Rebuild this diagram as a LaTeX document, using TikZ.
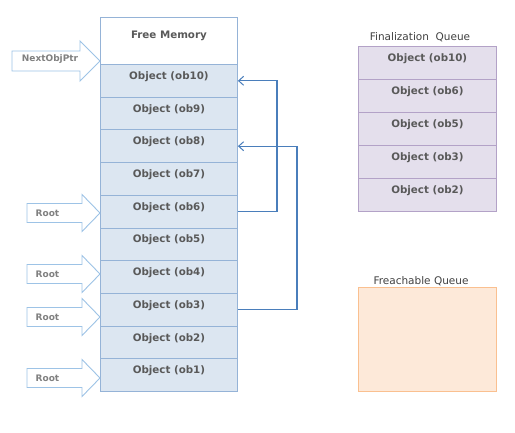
\documentclass[tikz,border=0pt]{standalone}
\usepackage{fontspec}
\setmainfont{DejaVu Sans}
\usetikzlibrary{arrows.meta}
\definecolor{memfill}{HTML}{DCE6F1}
\definecolor{memline}{HTML}{95B3D7}
\definecolor{objtext}{HTML}{595959}
\definecolor{labtext}{HTML}{404040}
\definecolor{finfill}{HTML}{E4DFEC}
\definecolor{finline}{HTML}{B3A2C7}
\definecolor{frfill}{HTML}{FDE9D9}
\definecolor{frline}{HTML}{FAC090}
\definecolor{arrline}{HTML}{9DC3E6}
\definecolor{connline}{HTML}{4A7EBB}
\definecolor{arrtext}{HTML}{808080}
\tikzset{
  memrow/.style={draw=memline, fill=memfill, line width=0.9pt, minimum width=137pt,
    minimum height=32.7pt, inner sep=0pt, text height=15pt, text depth=17.7pt,
    anchor=north west, font=\bfseries\fontsize{10.3}{12}\selectfont, text=objtext},
  freerow/.style={memrow, fill=white, minimum height=47pt, text height=21pt, text depth=26pt},
  finrow/.style={draw=finline, fill=finfill, line width=0.9pt, minimum width=138pt,
    minimum height=33pt, inner sep=0pt, text height=15pt, text depth=18pt,
    anchor=north west, font=\bfseries\fontsize{10.3}{12}\selectfont, text=objtext},
  frbox/.style={draw=frline, fill=frfill, line width=0.9pt, minimum width=138pt,
    minimum height=104pt, inner sep=0pt, anchor=north west},
  qlabel/.style={font=\fontsize{10.5}{12}\selectfont, text=labtext, inner sep=0pt},
  blockarrow/.style={draw=arrline, fill=white, line width=0.9pt, line join=miter},
  arrlabel/.style={font=\bfseries\fontsize{9}{11}\selectfont, text=arrtext, inner sep=0pt},
  conn/.style={draw=connline, line width=1.2pt, -{Straight Barb[length=5pt,width=9pt,line width=1pt]}},
  ptrarrow/.pic={\path[blockarrow] (-88,-10) -- (-20,-10) -- (-20,-20) -- (0,0) -- (-20,20) -- (-20,10) -- (-88,10) -- cycle;},
  rootarrow/.pic={\path[blockarrow] (-73,-9.5) -- (-18,-9.5) -- (-18,-18.5) -- (0,0) -- (-18,18.5) -- (-18,9.5) -- (-73,9.5) -- cycle;}
}
\begin{document}
\begin{tikzpicture}[x=1pt,y=-1pt]
\useasboundingbox (0,0) rectangle (515,432);
% managed heap
\node[freerow] (free) at (100,17) {Free Memory};
\node[memrow] (ob10) at (100,64) {Object (ob10)};
\node[memrow] (ob9) at (100,96.7) {Object (ob9)};
\node[memrow] (ob8) at (100,129.4) {Object (ob8)};
\node[memrow] (ob7) at (100,162.1) {Object (ob7)};
\node[memrow] (ob6) at (100,194.8) {Object (ob6)};
\node[memrow] (ob5) at (100,227.5) {Object (ob5)};
\node[memrow] (ob4) at (100,260.2) {Object (ob4)};
\node[memrow] (ob3) at (100,292.9) {Object (ob3)};
\node[memrow] (ob2) at (100,325.6) {Object (ob2)};
\node[memrow] (ob1) at (100,358.3) {Object (ob1)};
% pointer arrows
\pic at (100,61) {ptrarrow};
\node[arrlabel] (nextptr) at (50,59) {NextObjPtr};
\pic at (100,213) {rootarrow};
\node[arrlabel] (root1) at (47.5,213) {Root};
\pic at (100,274) {rootarrow};
\node[arrlabel] (root2) at (47.5,274) {Root};
\pic at (100,317) {rootarrow};
\node[arrlabel] (root3) at (47.5,317) {Root};
\pic at (100,378) {rootarrow};
\node[arrlabel] (root4) at (47.5,378) {Root};
% connectors
\draw[conn] (ob6.east) -- ++(39,0) |- (ob10.east);
\draw[conn] (ob3.east) -- ++(59,0) |- (ob8.east);
% finalization queue
\node[qlabel] (finlabel) at (420,37) {Finalization\ \ Queue};
\node[finrow] (f10) at (358,46) {Object (ob10)};
\node[finrow] (f6) at (358,79) {Object (ob6)};
\node[finrow] (f5) at (358,112) {Object (ob5)};
\node[finrow] (f3) at (358,145) {Object (ob3)};
\node[finrow] (f2) at (358,178) {Object (ob2)};
% freachable queue
\node[qlabel] (frlabel) at (421,281) {Freachable Queue};
\node[frbox] (freach) at (358,287) {};
\end{tikzpicture}
\end{document}
